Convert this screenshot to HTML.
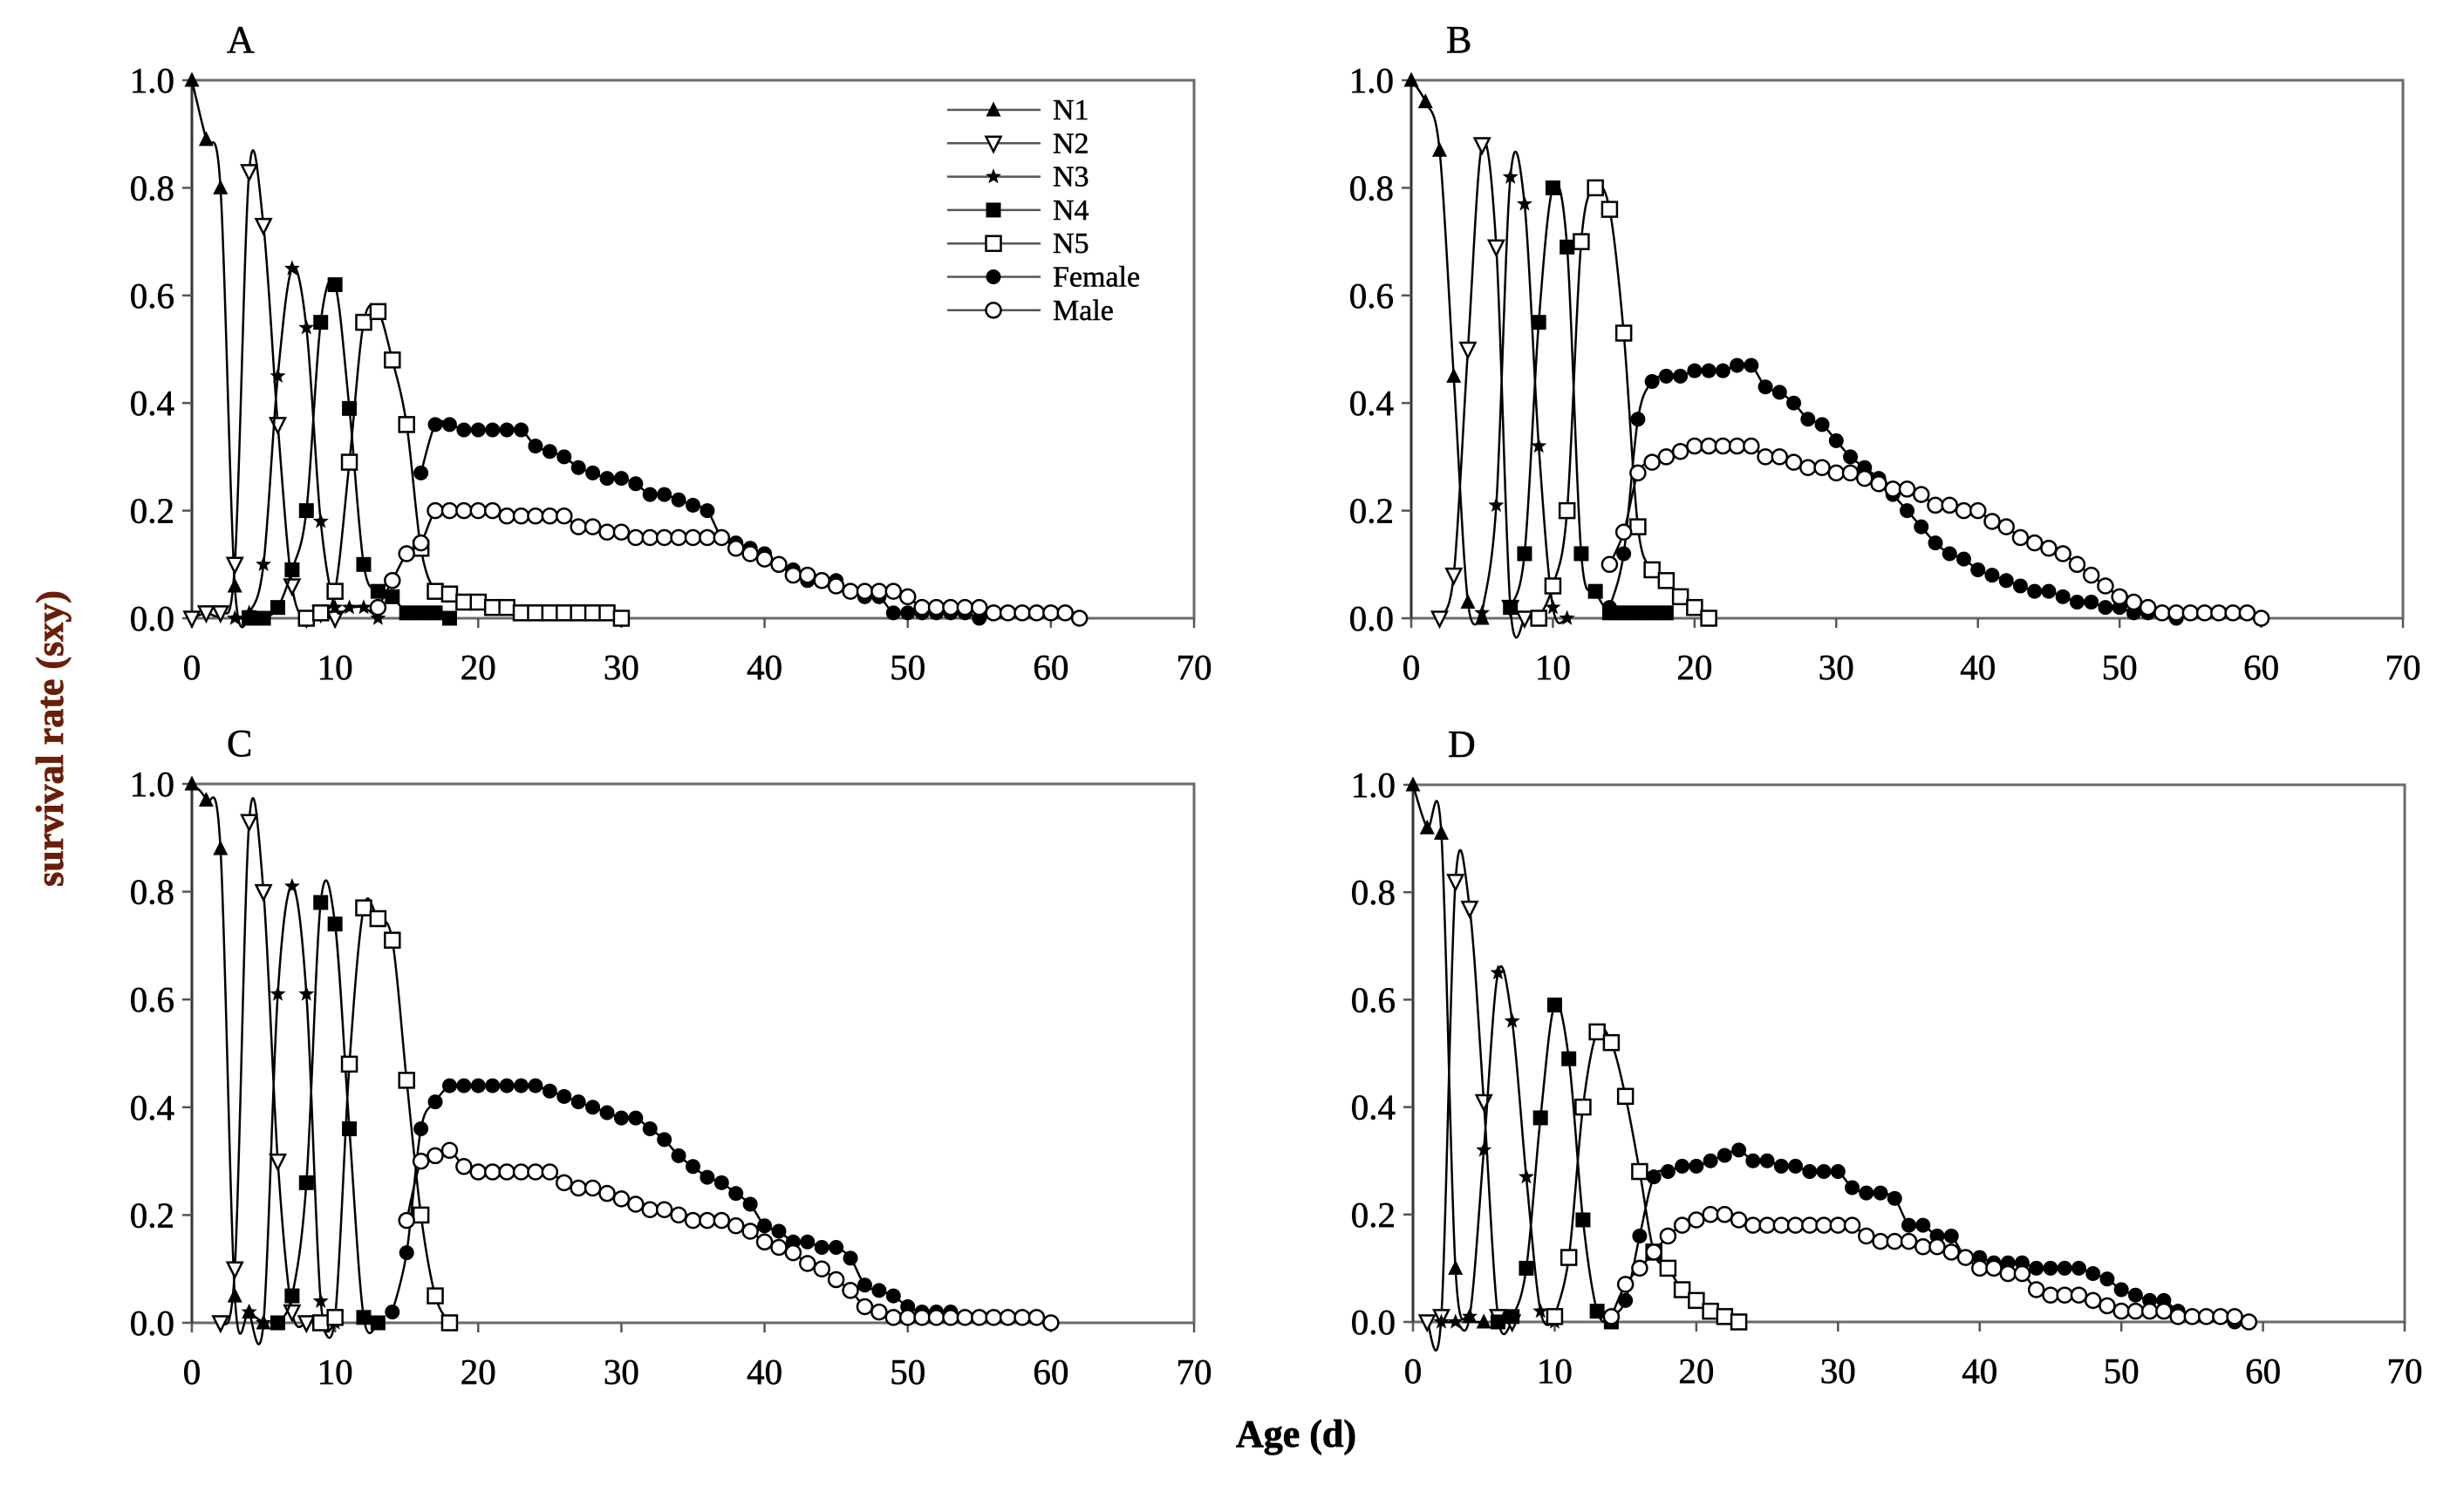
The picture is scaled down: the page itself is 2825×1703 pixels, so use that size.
<!DOCTYPE html>
<html><head><meta charset="utf-8"><style>
html,body{margin:0;padding:0;background:#fff;}
svg{display:block;}
text{font-family:"Liberation Serif",serif;}
</style></head><body>
<svg id="chart" width="2825" height="1703" viewBox="0 0 2825 1703" xmlns="http://www.w3.org/2000/svg">
<rect width="2825" height="1703" fill="#fff"/>
<text x="0" y="0" transform="translate(72,847) rotate(-90)" text-anchor="middle" font-size="44" font-weight="bold" fill="#6a1e08" stroke="#6a1e08" stroke-width="0.8">survival rate (sxy)</text>
<text x="1486" y="1659" text-anchor="middle" font-size="44" font-weight="bold" fill="#000" stroke="#000" stroke-width="0.8">Age (d)</text>
</svg>
<script>
const xTicks=[0,10,20,30,40,50,60,70];
const yTicks=[0,0.2,0.4,0.6,0.8,1.0];
const yTickLabels=["0.0","0.2","0.4","0.6","0.8","1.0"];
const seriesNames=["N1","N2","N3","N4","N5","Female","Male"];
const panelLetters=["A","B","C","D"];
// start ages for each series per panel
const A_starts=[0,0,3,4,8,16,13];
const A_N1=[1.0,0.89,0.80,0.06,0.0];
const A_N2=[0,0.01,0.01,0.10,0.83,0.73,0.36,0.06,0,0.01,0];
const A_N3=[0,0.01,0.10,0.45,0.65,0.54,0.18,0.02,0.02,0.02,0];
const A_N4=[0,0,0.02,0.09,0.20,0.55,0.62,0.39,0.10,0.05,0.04,0.01,0.01,0.01,0];
const A_N5=[0,0.01,0.05,0.29,0.55,0.57,0.48,0.36,0.13,0.05,0.045,0.03,0.03,0.02,0.02,0.01,0.01,0.01,0.01,0.01,0.01,0.01,0];
const A_F=[0.27,0.36,0.36,0.35,0.35,0.35,0.35,0.35,0.32,0.31,0.30,0.28,0.27,0.26,0.26,0.25,0.23,0.23,0.22,0.21,0.20,0.15,0.14,0.13,0.12,0.10,0.09,0.07,0.07,0.07,0.05,0.04,0.04,0.01,0.01,0.01,0.01,0.01,0.01,0];
const A_M=[0.02,0.07,0.12,0.14,0.20,0.20,0.20,0.20,0.20,0.19,0.19,0.19,0.19,0.19,0.17,0.17,0.16,0.16,0.15,0.15,0.15,0.15,0.15,0.15,0.15,0.13,0.12,0.11,0.10,0.08,0.08,0.07,0.06,0.05,0.05,0.05,0.05,0.04,0.02,0.02,0.02,0.02,0.02,0.01,0.01,0.01,0.01,0.01,0.01,0];
const B_starts=[0,2,5,7,9,14,14];
const B_N1=[1.0,0.96,0.87,0.45,0.03,0];
const B_N2=[0,0.08,0.50,0.88,0.69,0.02,0];
const B_N3=[0.01,0.21,0.82,0.77,0.32,0.02,0];
const B_N4=[0.02,0.12,0.55,0.80,0.69,0.12,0.05,0.01,0.01,0.01,0.01,0.01];
const B_N5=[0,0.06,0.20,0.70,0.80,0.76,0.53,0.17,0.09,0.07,0.04,0.02,0];
const B_F=[0.02,0.12,0.37,0.44,0.45,0.45,0.46,0.46,0.46,0.47,0.47,0.43,0.42,0.40,0.37,0.36,0.33,0.30,0.28,0.26,0.23,0.20,0.17,0.14,0.12,0.11,0.09,0.08,0.07,0.06,0.05,0.05,0.04,0.03,0.03,0.02,0.02,0.01,0.01,0.01,0];
const B_M=[0.10,0.16,0.27,0.29,0.30,0.31,0.32,0.32,0.32,0.32,0.32,0.30,0.30,0.29,0.28,0.28,0.27,0.27,0.26,0.25,0.24,0.24,0.23,0.21,0.21,0.20,0.20,0.18,0.17,0.15,0.14,0.13,0.12,0.10,0.08,0.06,0.04,0.03,0.02,0.01,0.01,0.01,0.01,0.01,0.01,0.01,0];
const C_starts=[0,2,4,6,9,14,15];
const C_N1=[1.0,0.97,0.88,0.05,0.02,0];
const C_N2=[0,0.10,0.93,0.80,0.30,0.02,0];
const C_N3=[0.02,0,0.61,0.81,0.61,0.04,0];
const C_N4=[0,0.05,0.26,0.78,0.74,0.36,0.01,0];
const C_N5=[0,0.01,0.48,0.77,0.75,0.71,0.45,0.20,0.05,0];
const C_F=[0.02,0.13,0.36,0.41,0.44,0.44,0.44,0.44,0.44,0.44,0.44,0.43,0.42,0.41,0.40,0.39,0.38,0.38,0.36,0.34,0.31,0.29,0.27,0.26,0.24,0.22,0.18,0.17,0.15,0.15,0.14,0.14,0.12,0.07,0.06,0.05,0.03,0.02,0.02,0.02,0.01,0.01,0.01,0.01,0.01,0.01,0];
const C_M=[0.19,0.30,0.31,0.32,0.29,0.28,0.28,0.28,0.28,0.28,0.28,0.26,0.25,0.25,0.24,0.23,0.22,0.21,0.21,0.20,0.19,0.19,0.19,0.18,0.17,0.15,0.14,0.13,0.11,0.10,0.08,0.06,0.03,0.02,0.01,0.01,0.01,0.01,0.01,0.01,0.01,0.01,0.01,0.01,0.01,0];
const D_starts=[0,1,2,6,10,14,14];
const D_N1=[1.0,0.92,0.91,0.10,0.01,0];
const D_N2=[0,0.01,0.82,0.77,0.41,0.01,0];
const D_N3=[0,0,0.01,0.32,0.65,0.56,0.27,0.02,0];
const D_N4=[0,0.01,0.10,0.38,0.59,0.49,0.19,0.02,0];
const D_N5=[0.01,0.12,0.40,0.54,0.52,0.42,0.28,0.13,0.10,0.06,0.04,0.02,0.01,0];
const D_F=[0.01,0.04,0.16,0.27,0.28,0.29,0.29,0.30,0.31,0.32,0.30,0.30,0.29,0.29,0.28,0.28,0.28,0.25,0.24,0.24,0.23,0.18,0.18,0.16,0.16,0.12,0.12,0.11,0.11,0.11,0.10,0.10,0.10,0.10,0.09,0.08,0.06,0.05,0.04,0.04,0.02,0.01,0.01,0.01,0];
const D_M=[0.01,0.07,0.10,0.13,0.16,0.18,0.19,0.20,0.20,0.19,0.18,0.18,0.18,0.18,0.18,0.18,0.18,0.18,0.16,0.15,0.15,0.15,0.14,0.14,0.13,0.12,0.10,0.10,0.09,0.09,0.06,0.05,0.05,0.05,0.04,0.03,0.02,0.02,0.02,0.02,0.01,0.01,0.01,0.01,0.01,0];

const panelData=[
 {starts:A_starts,series:[A_N1,A_N2,A_N3,A_N4,A_N5,A_F,A_M]},
 {starts:B_starts,series:[B_N1,B_N2,B_N3,B_N4,B_N5,B_F,B_M]},
 {starts:C_starts,series:[C_N1,C_N2,C_N3,C_N4,C_N5,C_F,C_M]},
 {starts:D_starts,series:[D_N1,D_N2,D_N3,D_N4,D_N5,D_F,D_M]}
];
const boxes=[{x0:220,x1:1369,y0:709,y1:92},{x0:1618,x1:2755,y0:709,y1:92},{x0:220,x1:1369,y0:1517,y1:899},{x0:1620,x1:2757,y0:1516,y1:900}];
const NS="http://www.w3.org/2000/svg";
const svg=document.getElementById('chart');
function mk(tag,attrs,parent){const e=document.createElementNS(NS,tag);for(const k in attrs)e.setAttribute(k,attrs[k]);(parent||svg).appendChild(e);return e;}
function marker(g,kind,x,y){
 const s=8.5;let e;
 if(kind===0)e=mk('polygon',{points:`${x},${y-s-1} ${x-s},${y+s-1} ${x+s},${y+s-1}`,fill:'#000'},g);
 else if(kind===1)e=mk('polygon',{points:`${x-s},${y-s+1} ${x+s},${y-s+1} ${x},${y+s+1}`,fill:'#fff',stroke:'#000','stroke-width':2.5},g);
 else if(kind===2){let p=[];for(let i=0;i<10;i++){const r=i%2?4:9.5;const a=-Math.PI/2+i*Math.PI/5;p.push((x+r*Math.cos(a)).toFixed(1)+','+(y+r*Math.sin(a)).toFixed(1));}e=mk('polygon',{points:p.join(' '),fill:'#000'},g);}
 else if(kind===3)e=mk('rect',{x:x-s,y:y-s,width:2*s,height:2*s,fill:'#000'},g);
 else if(kind===4)e=mk('rect',{x:x-s,y:y-s,width:2*s,height:2*s,fill:'#fff',stroke:'#000','stroke-width':2.5},g);
 else if(kind===5)e=mk('circle',{cx:x,cy:y,r:s,fill:'#000'},g);
 else e=mk('circle',{cx:x,cy:y,r:s,fill:'#fff',stroke:'#000','stroke-width':2.5},g);
 return e;
}
function spline(pts){
 let d=`M${pts[0][0]},${pts[0][1]}`;
 for(let i=0;i<pts.length-1;i++){
  const p0=pts[i-1]||pts[i],p1=pts[i],p2=pts[i+1],p3=pts[i+2]||p2;
  const c1=[p1[0]+(p2[0]-p0[0])/6,p1[1]+(p2[1]-p0[1])/6];
  const c2=[p2[0]-(p3[0]-p1[0])/6,p2[1]-(p3[1]-p1[1])/6];
  d+=` C${c1[0].toFixed(1)},${c1[1].toFixed(1)} ${c2[0].toFixed(1)},${c2[1].toFixed(1)} ${p2[0].toFixed(1)},${p2[1].toFixed(1)}`;
 }
 return d;
}
panelData.forEach((pd,pi)=>{
 const b=boxes[pi];
 const sx=v=>b.x0+(b.x1-b.x0)*v/70;
 const sy=v=>b.y0+(b.y1-b.y0)*v;
 const g=mk('g',{});
 
 
 const frame=mk('rect',{x:b.x0,y:b.y1,width:b.x1-b.x0,height:b.y0-b.y1,fill:'none',stroke:'#6a6a6a','stroke-width':3},g);
 
 
 mk('line',{x1:b.x0,y1:b.y1,x2:b.x0,y2:b.y0,stroke:'#333','stroke-width':3},g);
 const lt=mk('text',{x:b.x0+40,y:b.y1-32,'font-size':44,fill:'#000',stroke:'#000','stroke-width':0.6},g);lt.textContent=panelLetters[pi];
 
 
 xTicks.forEach(t=>{
  mk('line',{x1:sx(t),y1:b.y0,x2:sx(t),y2:b.y0+11,stroke:'#555','stroke-width':2.5},g);
  const tx=mk('text',{x:sx(t),y:b.y0+70,'font-size':41,'text-anchor':'middle',fill:'#000',stroke:'#000','stroke-width':0.6},g);tx.textContent=t;
  
  
 });
 yTicks.forEach((t,i)=>{
  mk('line',{x1:b.x0-11,y1:sy(t),x2:b.x0,y2:sy(t),stroke:'#555','stroke-width':2.5},g);
  const ty=mk('text',{x:b.x0-20,y:sy(t)+14,'font-size':41,'text-anchor':'end',fill:'#000',stroke:'#000','stroke-width':0.6},g);ty.textContent=yTickLabels[i];
  
  
 });
 pd.series.forEach((vals,si)=>{
  const sg=mk('g',{},g);
  
  
  const pts=vals.map((v,i)=>[sx(pd.starts[si]+i),sy(v)]);
  mk('path',{d:spline(pts),fill:'none',stroke:'#000','stroke-width':2.5},sg);
  pts.forEach(p=>{const m=marker(sg,si,p[0],p[1]);
   
   });
 });
 if(pi===0){
  const lg=mk('g',{},g);
  
  
  seriesNames.forEach((n,i)=>{
   const y=126+i*38.3;
   const eg=mk('g',{},lg);
   
   
   mk('line',{x1:1086,y1:y,x2:1193,y2:y,stroke:'#555','stroke-width':2.5},eg);
   marker(eg,i,1139,y);
   const t=mk('text',{x:1207,y:y+11,'font-size':34,fill:'#000',stroke:'#000','stroke-width':0.5},eg);t.textContent=n;
  });
 }
});
</script>
</body></html>
